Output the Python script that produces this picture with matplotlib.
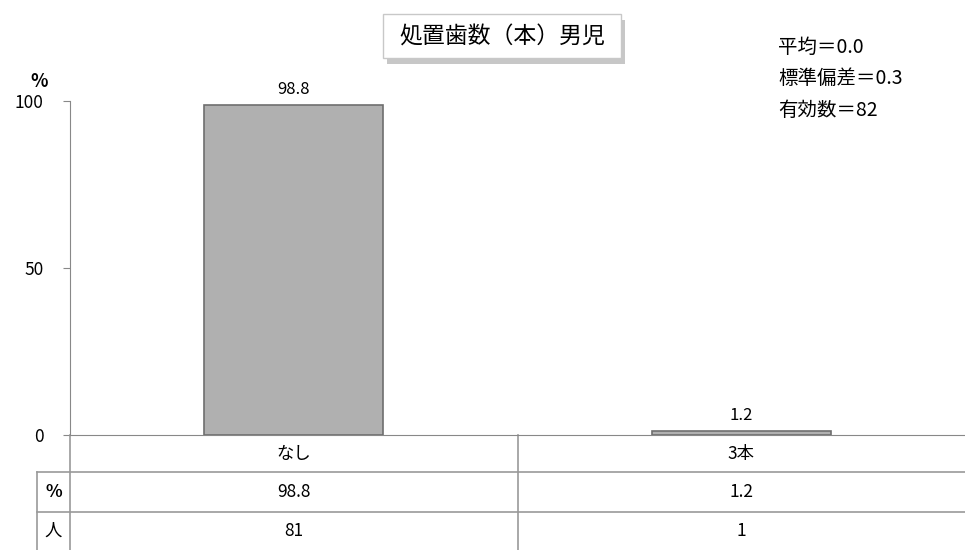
import matplotlib
matplotlib.use("Agg")
import matplotlib.pyplot as plt
import matplotlib.patches as mpatches
import matplotlib.patheffects as pe
from matplotlib.transforms import blended_transform_factory

plt.rcParams['font.family'] = ['Noto Sans CJK JP', 'DejaVu Sans']

categories = ['なし', '3本']
percents = [98.8, 1.2]
counts = [81, 1]
title = '処置歯数（本）男児'
stats = ['平均＝0.0', '標準偏差＝0.3', '有効数＝82']
yticks = [0, 50, 100]

W, H = 965, 550
fig = plt.figure(figsize=(W / 100, H / 100), dpi=100)
ax = fig.add_axes([70 / W, (H - 435) / H, (W - 70) / W, (435 - 101) / H])

x = range(len(categories))
ax.bar(x, percents, width=0.4, color='#b0b0b0', edgecolor='#6e6e6e', linewidth=1.2)
for xi, v in zip(x, percents):
    ax.text(xi, v + 2, f'{v:.1f}', ha='center', va='bottom', fontsize=12)

ax.set_xlim(-0.5, len(categories) - 0.5)
ax.set_ylim(0, 100)
ax.set_yticks(yticks)
ax.tick_params(axis='y', labelsize=12.5, length=5, color='#888888', pad=14)
ax.set_xticks([])
for s in ['top', 'right']:
    ax.spines[s].set_visible(False)
for s in ['left', 'bottom']:
    ax.spines[s].set_color('#888888')
ax.text(-0.025, 1.03, '%', transform=ax.transAxes, ha='right', va='bottom',
        fontsize=13, fontweight='bold')

# data table under the axis
tr = blended_transform_factory(ax.transData, ax.transAxes)
px = 1 / (435 - 101)
y_r1 = -37 * px
y_r2 = -77 * px
y_bot = -115 * px
x_lab = -0.5 - 33 / 447.5
x_right = len(categories) - 0.5
lc = '#999999'
lines = [
    ([x_lab, x_right], [y_r1, y_r1]),
    ([x_lab, x_right], [y_r2, y_r2]),
    ([x_lab, x_lab], [y_r1, y_bot]),
    ([-0.5, -0.5], [0, y_bot]),
]
for i in range(1, len(categories)):
    lines.append(([i - 0.5, i - 0.5], [0, y_bot]))
for lx, ly in lines:
    ax.plot(lx, ly, color=lc, lw=1.2, transform=tr, clip_on=False)

rows = [(None, categories, 0, y_r1),
        ('%', [f'{v:.1f}' for v in percents], y_r1, y_r2),
        ('人', [str(c) for c in counts], y_r2, y_bot)]
for lab, vals, ytop, ybot in rows:
    ym = (ytop + ybot) / 2
    if lab:
        ax.text((x_lab - 0.5) / 2, ym, lab, transform=tr, ha='center', va='center',
                fontsize=12.5, fontweight='bold' if lab == '%' else 'normal')
    for xi, v in zip(x, vals):
        ax.text(xi, ym, v, transform=tr, ha='center', va='center', fontsize=12.5)

# title box with shadow
box = mpatches.Rectangle((383 / W, (H - 58) / H), (621 - 383) / W, 44 / H,
                         transform=fig.transFigure, facecolor='white',
                         edgecolor='#c8c8c8', linewidth=1,
                         path_effects=[pe.SimplePatchShadow(offset=(3, -4), shadow_rgbFace='#909090', alpha=0.5),
                                       pe.Normal()])
fig.patches.append(box)
fig.text(502 / W, (H - 37) / H, title, ha='center', va='center', fontsize=16.5)

for i, s in enumerate(stats):
    fig.text(778 / W, (H - 47 - 32 * i) / H, s, ha='left', va='center', fontsize=14)

fig.savefig('out.png', dpi=100)
